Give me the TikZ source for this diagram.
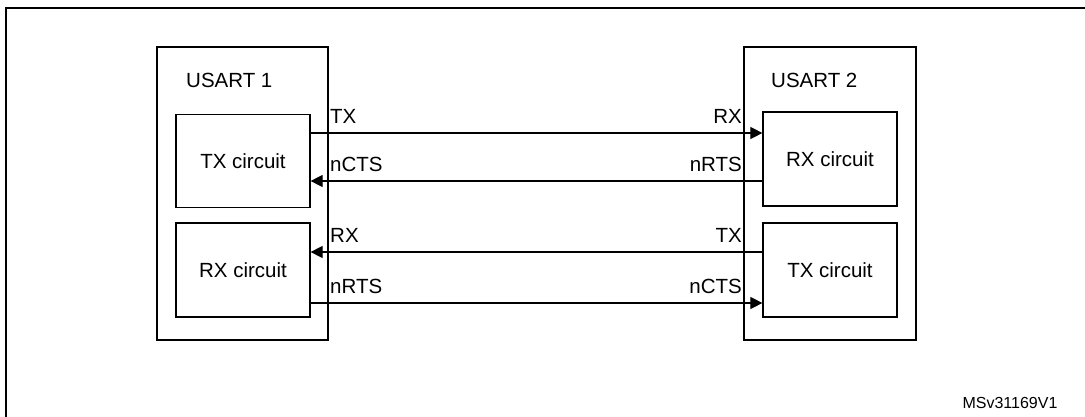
\documentclass[tikz,border=0pt]{standalone}
\usepackage{fontspec}
\setmainfont{Liberation Sans}
\usetikzlibrary{arrows.meta}
\begin{document}
\begin{tikzpicture}[x=1pt,y=-1pt,
  box/.style={draw,line width=1.2pt,inner sep=0},
  lbl/.style={font=\fontsize{20.5}{23}\selectfont,inner sep=0},
  sig/.style={line width=1.1pt},
  arr/.style={sig,-{Triangle[length=12pt,width=12pt]}}]
\useasboundingbox (0,0) rectangle (1085,417);
\draw[line width=1.5pt] (6,417) -- (6,8) -- (1085,8);
% USART boxes
\node[box,minimum width=171pt,minimum height=293pt] (u1) at (242.5,193.5) {};
\node[box,minimum width=172pt,minimum height=293pt] (u2) at (830,193.5) {};
\node[lbl,anchor=west] (u1t) at (186,80) {USART 1};
\node[lbl,anchor=west] (u2t) at (771,80) {USART 2};
% circuits
\node[box,minimum width=134pt,minimum height=93pt,font=\fontsize{20.5}{23}\selectfont] (tx1) at (243,161) {TX circuit};
\node[box,minimum width=134pt,minimum height=94pt,font=\fontsize{20.5}{23}\selectfont] (rx1) at (243,270) {RX circuit};
\node[box,minimum width=134pt,minimum height=94pt,font=\fontsize{20.5}{23}\selectfont] (rx2) at (830,159) {RX circuit};
\node[box,minimum width=134pt,minimum height=94pt,font=\fontsize{20.5}{23}\selectfont] (tx2) at (830,270) {TX circuit};
% signals
\coordinate (a1) at (tx1.east |- 0,133); \coordinate (a2) at (rx2.west |- 0,133);
\coordinate (b1) at (tx1.east |- 0,181); \coordinate (b2) at (rx2.west |- 0,181);
\coordinate (c1) at (rx1.east |- 0,252); \coordinate (c2) at (tx2.west |- 0,252);
\coordinate (d1) at (rx1.east |- 0,303); \coordinate (d2) at (tx2.west |- 0,303);
\draw[arr] (a1) -- (a2);
\draw[arr] (b2) -- (b1);
\draw[arr] (c2) -- (c1);
\draw[arr] (d1) -- (d2);
\node[lbl,anchor=south west] (l1) at (330,124) {TX};
\node[lbl,anchor=south west] (l2) at (330,172) {nCTS};
\node[lbl,anchor=south west] (l3) at (330,243) {RX};
\node[lbl,anchor=south west] (l4) at (330,294) {nRTS};
\node[lbl,anchor=south east] (r1) at (742,124) {RX};
\node[lbl,anchor=south east] (r2) at (742,172) {nRTS};
\node[lbl,anchor=south east] (r3) at (742,243) {TX};
\node[lbl,anchor=south east] (r4) at (742,294) {nCTS};
\node[inner sep=0,font=\fontsize{16}{18}\selectfont] (id) at (1010,403) {MSv31169V1};
\end{tikzpicture}
\end{document}
